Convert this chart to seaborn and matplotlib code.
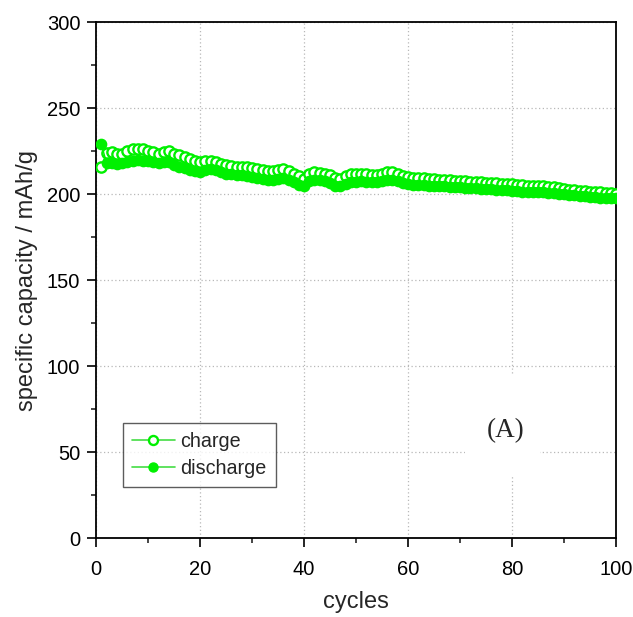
import numpy as np
import pandas as pd
import matplotlib
matplotlib.use("Agg")
import matplotlib.pyplot as plt
from matplotlib.patches import Rectangle
from matplotlib.ticker import MultipleLocator
import seaborn as sns

# cycle index
cycles = list(range(1, 101))

# specific capacity during charge (mAh/g)
charge = [
    216.0, 224.0, 224.5, 223.5, 223.5, 225.0, 226.5, 226.5, 226.0, 225.0,
    224.5, 223.5, 224.5, 225.0, 223.5, 222.5, 221.5, 220.5, 219.5, 218.5,
    219.0, 219.0, 218.5, 217.5, 217.0, 216.5, 216.0, 216.0, 215.5, 215.0,
    214.5, 214.0, 213.5, 213.5, 214.0, 214.5, 213.5, 212.0, 210.5, 209.0,
    212.0, 213.0, 212.5, 212.0, 211.0, 209.5, 209.0, 210.5, 211.5, 211.5,
    212.0, 211.5, 211.0, 211.0, 211.5, 213.0, 213.0, 211.5, 210.5, 210.0,
    209.5, 209.5, 209.5, 209.0, 209.0, 208.5, 208.5, 208.0, 207.5, 207.5,
    207.5, 207.0, 207.0, 207.0, 206.5, 206.5, 206.5, 206.0, 206.0, 206.0,
    205.5, 205.5, 205.0, 204.5, 204.5, 204.5, 204.0, 204.0, 203.5, 203.0,
    202.5, 202.5, 202.0, 202.0, 201.5, 201.0, 201.0, 200.5, 200.5, 200.0,
]

# specific capacity during discharge (mAh/g)
discharge = [
    229.0, 218.0, 218.0, 217.5, 218.0, 218.5, 219.5, 220.0, 219.5, 219.0,
    218.5, 218.0, 218.5, 218.5, 217.0, 216.0, 215.0, 214.0, 213.5, 213.0,
    214.0, 214.5, 214.0, 213.0, 212.0, 211.5, 211.0, 211.0, 210.5, 210.0,
    209.5, 209.0, 208.5, 208.5, 209.0, 209.5, 208.5, 207.0, 205.5, 204.5,
    207.5, 208.5, 208.0, 207.5, 206.5, 205.0, 204.5, 206.0, 207.0, 207.0,
    207.5, 207.0, 207.0, 207.0, 207.5, 208.5, 208.5, 207.5, 206.5, 206.0,
    205.5, 205.5, 205.5, 205.0, 205.0, 204.5, 204.5, 204.0, 204.0, 204.0,
    203.5, 203.5, 203.5, 203.0, 203.0, 203.0, 202.5, 202.5, 202.5, 202.0,
    202.0, 201.5, 201.5, 201.0, 201.0, 201.0, 200.5, 200.5, 200.0, 200.0,
    199.5, 199.5, 199.0, 199.0, 198.5, 198.5, 198.0, 198.0, 197.5, 197.5,
]

series_labels = ["charge", "discharge"]

df = pd.DataFrame({"cycles": cycles, "charge": charge, "discharge": discharge})

sns.set_style("ticks")
plt.rcParams["font.family"] = ["Liberation Sans", "DejaVu Sans"]

GREEN = "#00f000"

fig = plt.figure(figsize=(6.33, 6.17), dpi=100)
ax = fig.add_axes([0.152, 0.128, 0.821, 0.836])

sns.lineplot(data=df, x="cycles", y="charge", ax=ax, color=GREEN, lw=1.0,
             marker="o", markersize=7.4, markerfacecolor="white",
             markeredgecolor=GREEN, markeredgewidth=1.7, label=series_labels[0],
             zorder=3)
sns.lineplot(data=df, x="cycles", y="discharge", ax=ax, color=GREEN, lw=1.0,
             marker="o", markersize=7.4, markerfacecolor=GREEN,
             markeredgecolor=GREEN, markeredgewidth=1.0, label=series_labels[1],
             zorder=4)

ax.set_xlim(0, 100)
ax.set_ylim(0, 300)
ax.xaxis.set_major_locator(MultipleLocator(20))
ax.xaxis.set_minor_locator(MultipleLocator(10))
ax.yaxis.set_major_locator(MultipleLocator(50))
ax.yaxis.set_minor_locator(MultipleLocator(25))

ax.tick_params(axis="both", which="major", direction="out", length=6.5, width=1.2,
               labelsize=14.5, colors="black", pad=5)
ax.tick_params(axis="x", which="major", pad=9)
ax.tick_params(axis="both", which="minor", direction="out", length=3.6, width=1.2)
ax.tick_params(top=False, right=False, which="both")

for side in ["left", "bottom", "top", "right"]:
    ax.spines[side].set_visible(True)
    ax.spines[side].set_color("black")
    ax.spines[side].set_linewidth(1.3)

ax.grid(True, which="major", linestyle=(0, (1, 2)), color="#b8b8b8", lw=0.9)
ax.set_axisbelow(True)

ax.set_xlabel("cycles", fontsize=17, labelpad=9)
ax.set_ylabel("specific capacity / mAh/g", fontsize=17, labelpad=6)

leg = ax.legend(loc="upper left", bbox_to_anchor=(0.052, 0.223),
                borderaxespad=0, fontsize=14.2, frameon=True, fancybox=False,
                edgecolor="#333333", handlelength=2.15, handletextpad=0.3,
                borderpad=0.45, labelspacing=0.42)
leg.get_frame().set_linewidth(1.0)
for h in leg.get_lines():
    h.set_color("#44dd44")
    h.set_linewidth(1.2)
    h.set_markersize(6.5)

# white panel behind the panel tag, hiding the grid there
ax.add_patch(Rectangle((0.710, 0.120), 0.144, 0.196, transform=ax.transAxes,
                       facecolor="white", edgecolor="none", zorder=1))
ax.text(0.787, 0.209, "(A)", transform=ax.transAxes, ha="center", va="center",
        fontsize=19.5, family=["Liberation Serif", "DejaVu Serif"], zorder=5)

fig.savefig("out.png", dpi=100)
